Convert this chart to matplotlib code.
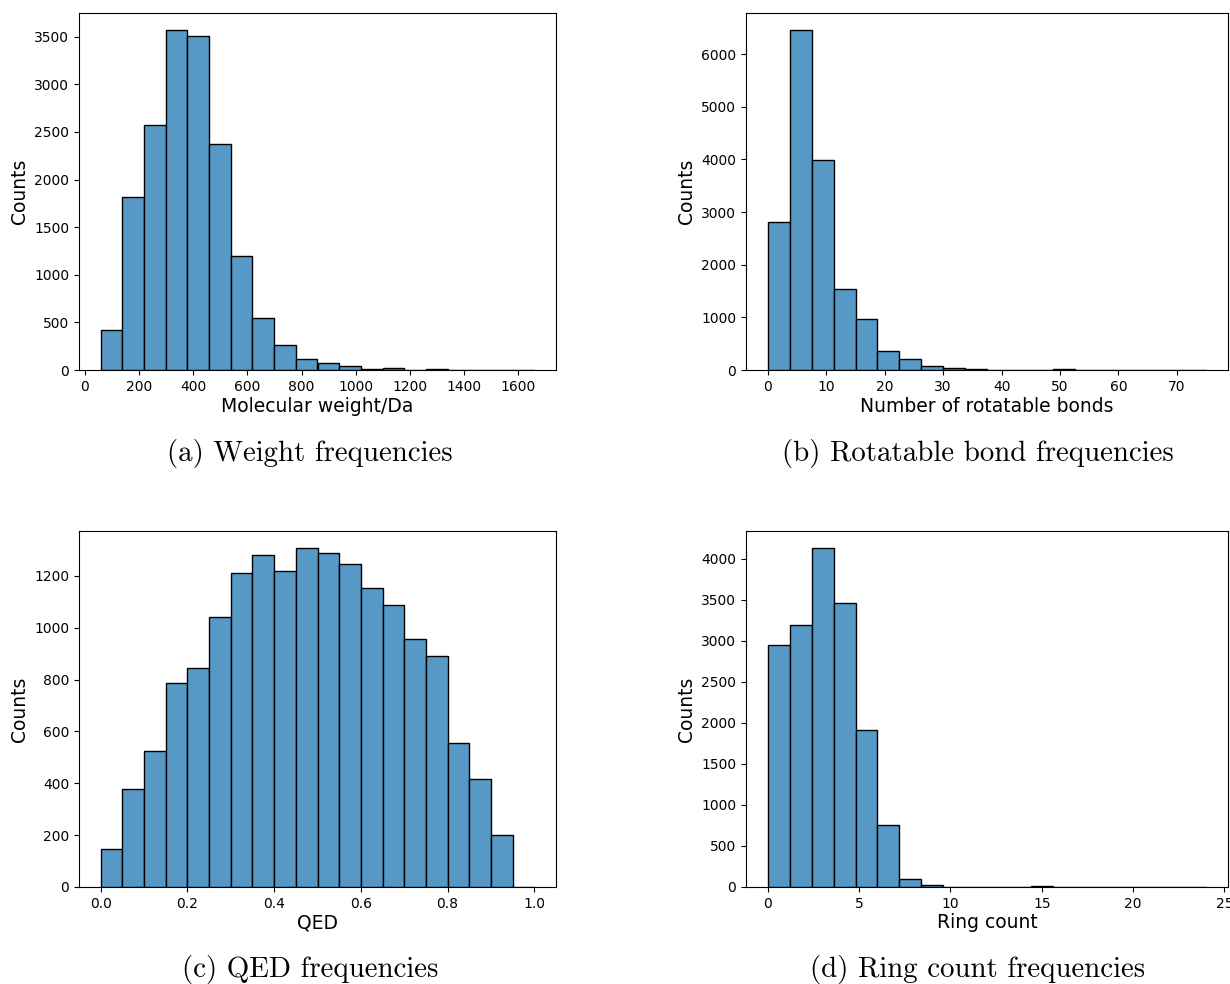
import numpy as np
import matplotlib
matplotlib.use("Agg")
import matplotlib.pyplot as plt

# histogram counts (20 bins each)
weight_range = (59, 1659)
weight_counts = [415, 1820, 2570, 3570, 3510, 2370, 1200, 550, 265, 120,
                 75, 40, 15, 20, 5, 10, 4, 2, 1, 2]

rotb_range = (0, 75)
rotb_counts = [2820, 6460, 3990, 1530, 975, 360, 200, 85, 45, 25,
               8, 5, 2, 12, 8, 2, 1, 1, 1, 2]

qed_range = (0.0, 1.0)
qed_counts = [145, 378, 525, 787, 843, 1043, 1210, 1282, 1220, 1308,
              1290, 1246, 1153, 1088, 958, 893, 556, 415, 200, 1]

ring_range = (0, 24)
ring_counts = [2950, 3195, 4130, 3465, 1915, 760, 95, 20, 5, 4,
               2, 1, 8, 6, 1, 1, 1, 3, 1, 2]

xlabels = ["Molecular weight/Da", "Number of rotatable bonds", "QED", "Ring count"]
captions = ["(a) Weight frequencies", "(b) Rotatable bond frequencies",
            "(c) QED frequencies", "(d) Ring count frequencies"]

BAR_COLOR = "#5799c6"

fig = plt.figure(figsize=(12.3, 9.84), dpi=100)
W, H = 1230, 984
# axes boxes in pixels: left, top, right, bottom
boxes = [(79, 13, 556, 370), (746, 13, 1228, 370),
         (79, 531, 556, 887), (746, 531, 1228, 887)]
caption_pos = [(310, 453), (978, 453), (310, 970), (978, 970)]

data = [(weight_range, weight_counts), (rotb_range, rotb_counts),
        (qed_range, qed_counts), (ring_range, ring_counts)]

for i, ((lo, hi), counts) in enumerate(data):
    l, t, r, b = boxes[i]
    ax = fig.add_axes([l / W, 1 - b / H, (r - l) / W, (b - t) / H])
    edges = np.linspace(lo, hi, len(counts) + 1)
    ax.hist(edges[:-1], bins=edges, weights=counts, color=BAR_COLOR,
            edgecolor="black", linewidth=1.0)
    ax.set_xlabel(xlabels[i], fontsize=13.5, labelpad=2)
    ax.set_ylabel("Counts", fontsize=13.5)
    ax.tick_params(labelsize=10)
    if i == 0:
        ax.set_xticks(np.arange(0, 1601, 200))
    cx, cy = caption_pos[i]
    fig.text(cx / W, 1 - cy / H, captions[i], ha="center", va="center",
             fontsize=20.8, family="cmr10")

fig.savefig("out.png", dpi=100)
